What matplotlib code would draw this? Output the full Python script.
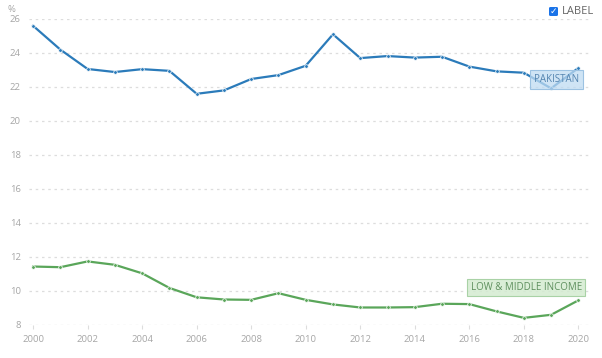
import matplotlib.pyplot as plt
from matplotlib.patches import FancyBboxPatch

plt.rcParams['font.family'] = ['Liberation Sans Narrow', 'Open Sans', 'DejaVu Sans']

# datos
years = list(range(2000, 2021))
pakistan = [25.6, 24.2, 23.06, 22.88, 23.05, 22.95, 21.6, 21.8, 22.47, 22.7, 23.25,
            25.1, 23.7, 23.82, 23.73, 23.78, 23.2, 22.92, 22.84, 21.92, 23.12]
low_middle = [11.44, 11.4, 11.74, 11.54, 11.04, 10.18, 9.63, 9.5, 9.48, 9.87, 9.48,
              9.21, 9.03, 9.03, 9.05, 9.25, 9.23, 8.8, 8.42, 8.6, 9.45]
y_ticks = [8, 10, 12, 14, 16, 18, 20, 22, 24, 26]
x_ticks = list(range(2000, 2021, 2))

blue = '#2b7bba'
green = '#5aa65a'
grey = '#a6a6a6'

fig = plt.figure(figsize=(6.02, 3.58), dpi=100)
ax = fig.add_axes([29 / 602, 1 - 325 / 358, 563 / 602, 306 / 358])

ax.plot(years, pakistan, color=blue, lw=1.6, marker='o', ms=2.6,
        mfc=blue, mec='white', mew=0.5, zorder=3)
ax.plot(years, low_middle, color=green, lw=1.6, marker='o', ms=2.6,
        mfc=green, mec='white', mew=0.5, zorder=3)

ax.set_xlim(1999.85, 2020.5)
ax.set_ylim(8, 26)
ax.set_yticks(y_ticks)
ax.set_xticks(x_ticks)
ax.grid(axis='y', color='#dddddd', ls=(0, (2, 3)), lw=0.9)
for s in ax.spines.values():
    s.set_visible(False)
ax.tick_params(axis='y', length=0, labelsize=6.8, labelcolor=grey, pad=6)
ax.tick_params(axis='x', length=3, color='#dddddd', labelsize=6.8, labelcolor=grey, pad=4)

# etiquetas de las series (caja semitransparente)
ax.text(2019.19, 22.44, 'PAKISTAN', fontsize=7, color='#5585b0', ha='center', va='center',
        bbox=dict(boxstyle='square,pad=0.4', fc=(0.75, 0.86, 0.95, 0.75), ec='#9cc2e2', lw=0.8),
        zorder=4)
ax.text(2018.09, 10.19, 'LOW & MIDDLE INCOME', fontsize=7, color='#5d8f5d', ha='center', va='center',
        bbox=dict(boxstyle='square,pad=0.33', fc=(0.83, 0.92, 0.82, 0.85), ec='#a9d2a6', lw=0.8),
        zorder=4)

fig.text(7 / 602, 1 - 9 / 358, '%', fontsize=6.8, color=grey, va='center')

# casilla "LABEL"
box = FancyBboxPatch((549 / 602, 1 - 16 / 358), 9 / 602, 9 / 358,
                     boxstyle='round,pad=0,rounding_size=0.003', transform=fig.transFigure,
                     fc='#1a73e8', ec='none')
fig.patches.append(box)
fig.text(553.5 / 602, 1 - 11.5 / 358, '\u2713', fontsize=6.5, color='white', ha='center',
         va='center', fontweight='bold', family='DejaVu Sans')
fig.text(562 / 602, 1 - 11.5 / 358, 'LABEL', fontsize=8, color='#666666', va='center')

fig.savefig('out.png', dpi=100)
